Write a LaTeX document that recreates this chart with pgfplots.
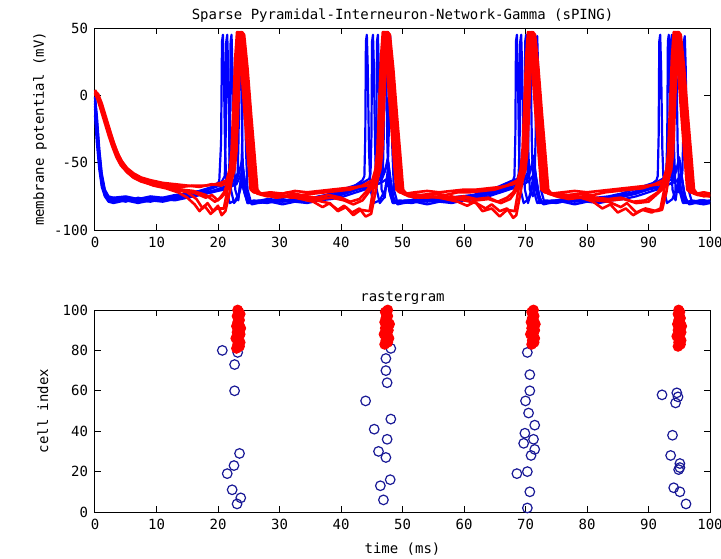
\documentclass[border=0pt]{standalone}
\usepackage{pgfplots}
\pgfplotsset{compat=1.18}
\usepackage{fontspec}
\setmainfont{DejaVu Sans Mono}
\definecolor{navy}{RGB}{25,25,150}

\begin{document}
\begin{tikzpicture}[font=\fontsize{7}{8}\selectfont]
\pgfplotsset{
  every axis/.append style={
    scale only axis, width=307.5pt, height=101pt,
    xmin=0, xmax=100, xtick={0,10,...,100},
    tick align=inside, major tick length=3pt,
    axis line style={line width=0.5pt},
    tick style={line width=0.5pt, black},
    tick label style={font=\fontsize{7}{8}\selectfont},
    label style={font=\fontsize{7}{8}\selectfont},
    title style={font=\fontsize{7}{8}\selectfont},
    /pgf/number format/assume math mode=true,
    clip=false,
  },
  rl/.style={red, line width=1.3pt, line join=round},
  bl/.style={blue, line width=1.1pt, line join=round},
}

% membrane potential traces
\begin{axis}[
  ymin=-100, ymax=50, ytick={-100,-50,0,50},
  ylabel={membrane potential (mV)},
  ylabel style={at={(axis description cs:-0.0894,0.5)}, anchor=center},
  title={Sparse Pyramidal-Interneuron-Network-Gamma (sPING)},
  title style={at={(axis description cs:0.5,1)}, anchor=base, yshift=-1.5pt},
]
% interneurons (blue)
\addplot[bl] coordinates {(0,-2) (0.3,-18) (0.7,-42) (1.1,-60) (1.6,-71) (2.2,-76) (3,-78) (5,-77) (7,-78) (9,-76) (11,-77) (13,-75) (15,-74) (17,-72) (18.5,-70) (19.5,-67)
 (20.2,-64) (20.5,-35) (20.65,40) (20.8,45) (20.95,20) (21.15,-40) (21.4,-70) (21.9,-80) (22.8,-78) (23.5,-72) (23.9,-65) (24.4,-74) (25,-80) (26,-79)
 (28,-78) (30,-79) (32,-77) (34,-78) (36,-76) (38,-75) (40,-72) (42,-68) (43.5,-63)
 (43.8,-60) (43.95,-30) (44.05,40) (44.2,45) (44.35,20) (44.55,-40) (44.8,-70) (45.3,-80) (46.3,-78) (47.2,-70) (47.6,-64) (48.1,-75) (48.7,-80) (49.5,-79)
 (51,-78) (53,-79) (55,-77) (57,-78) (59,-76) (61,-75) (63,-73) (65,-70) (67,-66) (68,-63)
 (68.2,-60) (68.35,-30) (68.45,40) (68.6,45) (68.75,20) (68.95,-40) (69.2,-70) (69.7,-80) (70.5,-77) (71.1,-68) (71.5,-62) (72,-75) (72.6,-80) (73.5,-79)
 (75,-78) (77,-79) (79,-77) (81,-78) (83,-76) (85,-75) (87,-73) (89,-69) (90.5,-66) (91.3,-63)
 (91.5,-60) (91.65,-30) (91.75,40) (91.9,45) (92.05,20) (92.25,-40) (92.5,-70) (93,-80) (93.9,-77) (94.6,-68) (95,-62) (95.5,-75) (96.1,-80) (97,-79)
 (98.5,-78) (100,-79)};
\addplot[bl] coordinates {(0,-6) (0.3,-25) (0.7,-48) (1.1,-64) (1.6,-73) (2.2,-77) (3,-76) (5,-78) (7,-77) (9,-78) (11,-76) (13,-76) (15,-73) (17,-71) (19,-68) (20.5,-65)
 (21.1,-60) (21.25,-30) (21.35,40) (21.5,45) (21.65,20) (21.85,-40) (22.1,-70) (22.6,-80) (23.3,-76) (23.8,-60) (24.2,-70) (24.8,-80) (25.8,-78)
 (27.5,-79) (29.5,-77) (31.5,-78) (33.5,-77) (35.5,-76) (37.5,-74) (39.5,-71) (41.5,-68) (43.5,-65) (44.6,-62)
 (44.8,-58) (44.95,-30) (45.05,40) (45.2,45) (45.35,20) (45.55,-40) (45.8,-70) (46.3,-80) (47,-76) (47.5,-60) (47.9,-70) (48.5,-80) (49.5,-78)
 (51.5,-79) (53.5,-77) (55.5,-78) (57.5,-76) (59.5,-75) (61.5,-74) (63.5,-71) (65.5,-68) (67.5,-64) (68.7,-62)
 (68.9,-58) (69.05,-30) (69.15,40) (69.3,45) (69.45,20) (69.65,-40) (69.9,-70) (70.4,-80) (70.9,-72) (71.3,-58) (71.7,-70) (72.3,-80) (73.3,-78)
 (75.5,-79) (77.5,-77) (79.5,-78) (81.5,-76) (83.5,-75) (85.5,-73) (87.5,-70) (89.5,-67) (91.5,-64) (92.7,-61)
 (92.9,-58) (93.05,-30) (93.15,40) (93.3,45) (93.45,20) (93.65,-40) (93.9,-70) (94.4,-78) (94.9,-62) (95.3,-70) (95.9,-80) (97,-78)
 (98.5,-79) (100,-78)};
\addplot[bl] coordinates {(0,-10) (0.3,-30) (0.7,-52) (1.1,-66) (1.6,-74) (2.2,-78) (3,-79) (5,-77) (7,-79) (9,-77) (11,-78) (13,-76) (15,-75) (17,-72) (19,-69) (21,-65)
 (21.8,-60) (21.95,-30) (22.05,40) (22.2,45) (22.35,20) (22.55,-40) (22.8,-70) (23.3,-78) (23.9,-55) (24.3,-68) (24.9,-80) (26,-79)
 (28,-77) (30,-79) (32,-78) (34,-77) (36,-77) (38,-75) (40,-73) (42,-69) (44,-66) (45.4,-62)
 (45.6,-60) (45.75,-30) (45.85,40) (46.0,45) (46.15,20) (46.35,-40) (46.6,-70) (47.1,-76) (47.6,-56) (48,-68) (48.6,-80) (49.7,-79)
 (51.5,-78) (53.5,-79) (55.5,-77) (57.5,-78) (59.5,-76) (61.5,-75) (63.5,-72) (65.5,-69) (67.5,-66) (69.5,-62)
 (69.7,-58) (69.85,-30) (69.95,40) (70.1,45) (70.25,20) (70.45,-40) (70.7,-70) (71.2,-75) (71.6,-60) (72,-70) (72.6,-80) (73.6,-79)
 (75.5,-78) (77.5,-79) (79.5,-77) (81.5,-78) (83.5,-76) (85.5,-74) (87.5,-72) (89.5,-69) (91.5,-66) (93.2,-62)
 (93.4,-58) (93.55,-30) (93.65,40) (93.8,45) (93.95,20) (94.15,-40) (94.4,-70) (94.9,-72) (95.3,-58) (95.7,-70) (96.3,-80) (97.3,-79)
 (99,-78) (100,-79)};
\addplot[bl] coordinates {(0,-4) (0.3,-22) (0.7,-46) (1.1,-63) (1.6,-73) (2.2,-77) (3,-77) (5,-79) (7,-76) (9,-78) (11,-77) (13,-77) (15,-75) (17,-73) (19,-71) (21,-68) (22.5,-64)
 (23.2,-58) (23.35,-30) (23.45,40) (23.6,45) (23.75,20) (23.95,-40) (24.2,-70) (24.8,-80) (26,-79)
 (28,-80) (30,-78) (32,-79) (34,-78) (36,-78) (38,-76) (40,-74) (42,-71) (44,-68) (46,-64)
 (46.8,-58) (46.95,-30) (47.05,40) (47.2,45) (47.35,20) (47.55,-40) (47.8,-70) (48.4,-80) (49.6,-79)
 (51.5,-80) (53.5,-78) (55.5,-79) (57.5,-77) (59.5,-77) (61.5,-76) (63.5,-74) (65.5,-71) (67.5,-68) (69.5,-64)
 (70.3,-58) (70.45,-30) (70.55,40) (70.7,45) (70.85,20) (71.05,-40) (71.3,-70) (71.9,-80) (73.1,-79)
 (75,-80) (77,-78) (79,-79) (81,-77) (83,-77) (85,-76) (87,-74) (89,-71) (91,-68) (93,-64)
 (94.0,-58) (94.15,-30) (94.25,40) (94.4,45) (94.55,20) (94.75,-40) (95.0,-70) (95.6,-80) (96.8,-79)
 (98.5,-80) (100,-79)};
\addplot[bl] coordinates {(0,-15) (0.3,-35) (0.7,-55) (1.1,-68) (1.6,-75) (2.2,-79) (3,-80) (5,-78) (7,-80) (9,-78) (11,-79) (13,-77) (15,-76) (17,-74) (19,-72) (21,-69) (22.8,-65)
 (23.4,-58) (23.9,-48) (24.3,-62) (24.8,-76) (25.5,-81) (26.5,-80)
 (28.5,-79) (30.5,-81) (32.5,-79) (34.5,-80) (36.5,-78) (38.5,-77) (40.5,-75) (42.5,-72) (44.5,-69) (46.4,-65)
 (47.1,-57) (47.6,-47) (48,-62) (48.5,-76) (49.2,-81) (50.2,-80)
 (52,-79) (54,-81) (56,-79) (58,-80) (60,-78) (62,-77) (64,-75) (66,-72) (68,-69) (70.1,-65)
 (70.8,-56) (71.3,-45) (71.7,-60) (72.2,-75) (72.9,-81) (73.9,-80)
 (76,-79) (78,-81) (80,-79) (82,-80) (84,-78) (86,-77) (88,-75) (90,-72) (92,-69) (93.8,-65)
 (94.5,-56) (95,-46) (95.4,-60) (95.9,-75) (96.6,-81) (97.6,-80)
 (99,-81) (100,-80)};
\addplot[bl] coordinates {(0,-8) (0.3,-28) (0.7,-50) (1.1,-65) (1.6,-74) (2.2,-78) (3,-78) (5,-76) (7,-78) (9,-79) (11,-77) (13,-78) (15,-76) (17,-74) (19,-72) (21,-70) (23,-66)
 (23.8,-58) (23.95,-30) (24.05,40) (24.2,44) (24.35,20) (24.55,-40) (24.8,-70) (25.4,-80) (26.6,-78)
 (28.5,-79) (30.5,-77) (32.5,-79) (34.5,-78) (36.5,-76) (38.5,-76) (40.5,-73) (42.5,-70) (44.5,-68) (46.5,-65) (47.5,-62)
 (47.6,-58) (47.75,-30) (47.85,40) (48.0,44) (48.15,20) (48.35,-40) (48.6,-70) (49.2,-80) (50.4,-78)
 (52.5,-79) (54.5,-77) (56.5,-79) (58.5,-78) (60.5,-76) (62.5,-75) (64.5,-73) (66.5,-70) (68.5,-68) (70.5,-64)
 (71.5,-58) (71.65,-30) (71.75,40) (71.9,44) (72.05,20) (72.25,-40) (72.5,-70) (73.1,-80) (74.3,-78)
 (76,-79) (78,-77) (80,-79) (82,-78) (84,-76) (86,-75) (88,-73) (90,-70) (92,-68) (94.5,-64)
 (95.5,-58) (95.65,-30) (95.75,40) (95.9,44) (96.05,20) (96.25,-40) (96.5,-70) (97.1,-80) (98.3,-78)
 (100,-79)};
\addplot[bl] coordinates {(0,-1) (0.3,-15) (0.7,-40) (1.1,-58) (1.6,-70) (2.2,-75) (3,-76) (5,-75) (7,-77) (9,-75) (11,-76) (13,-74) (15,-73) (17,-71) (19,-69) (21,-66) (22.8,-63)
 (23.5,-55) (24.0,-52) (24.4,-65) (24.9,-78) (25.6,-80) (26.6,-79)
 (28.5,-77) (30.5,-79) (32.5,-78) (34.5,-77) (36.5,-75) (38.5,-74) (40.5,-71) (42.5,-68) (44.5,-65) (46.5,-62)
 (47.2,-55) (47.7,-50) (48.1,-64) (48.6,-78) (49.3,-80) (50.3,-79)
 (52,-77) (54,-79) (56,-78) (58,-77) (60,-75) (62,-74) (64,-72) (66,-69) (68,-66) (70.2,-62)
 (70.9,-54) (71.4,-52) (71.8,-64) (72.3,-78) (73,-80) (74,-79)
 (76,-77) (78,-79) (80,-78) (82,-77) (84,-75) (86,-74) (88,-72) (90,-69) (92,-66) (94,-62)
 (94.6,-54) (95.1,-50) (95.5,-64) (96,-78) (96.7,-80) (97.7,-79)
 (99,-78) (100,-79)};
% pyramidal cells (red)
\addplot[rl] coordinates {(0,3) (0.4,0) (1,-8) (1.6,-17) (2.2,-26) (2.8,-35) (3.4,-43) (4,-49) (5,-55) (6,-59) (7,-62) (8.5,-64) (10,-66) (12,-67) (14,-68) (16,-67) (18,-67) (19.5,-66) (20.5,-65)
 (21.4,-63) (21.9,-55) (22.2,-42) (22.5,-8) (22.8,28) (23.1,47) (23.4,45) (23.8,20) (24.3,-12) (24.8,-42) (25.3,-70) (25.8,-72)
 (27.5,-73) (29.5,-74) (31.5,-72) (33.5,-74) (35.5,-73) (37.5,-72) (39.5,-71) (41.5,-70) (43.5,-67)
 (45.1,-63) (45.6,-55) (45.9,-42) (46.2,-8) (46.5,28) (46.8,47) (47.1,45) (47.5,20) (48.0,-12) (48.5,-42) (49.0,-70) (49.5,-72)
 (51,-73) (53,-74) (55,-73) (57,-74) (59,-72) (61,-72) (63,-71) (65,-70) (67,-67)
 (68.7,-63) (69.2,-55) (69.5,-42) (69.8,-8) (70.1,28) (70.4,47) (70.7,45) (71.1,20) (71.6,-12) (72.1,-42) (72.6,-70) (73.1,-72)
 (75,-73) (77,-74) (79,-73) (81,-74) (83,-72) (85,-71) (87,-70) (89,-69) (91,-66)
 (92.4,-63) (92.9,-55) (93.2,-42) (93.5,-8) (93.8,28) (94.1,47) (94.4,45) (94.8,20) (95.3,-12) (95.8,-42) (96.3,-70) (96.8,-72)
 (98,-73) (99,-74) (100,-73)};
\addplot[rl] coordinates {(0,1) (0.5,-3) (1.1,-11) (1.7,-20) (2.3,-29) (2.9,-38) (3.5,-45) (4.2,-51) (5.2,-57) (6.2,-61) (7.5,-64) (9,-66) (11,-68) (13,-69) (15,-71) (16.5,-73) (18,-76) (19,-74) (20,-78) (21,-72)
 (21.7,-63) (22.2,-55) (22.5,-42) (22.8,-8) (23.1,28) (23.4,47) (23.75,45) (24.3,20) (24.9,-15) (25.4,-42) (25.9,-70) (26.4,-73)
 (28,-75) (30,-74) (32,-76) (34,-75) (36,-76) (38,-74) (40,-76) (41.5,-79) (43,-77) (44,-72)
 (45.4,-63) (45.9,-55) (46.2,-42) (46.5,-8) (46.8,28) (47.1,47) (47.45,45) (48.0,20) (48.6,-15) (49.1,-42) (49.6,-70) (50.1,-73)
 (52,-75) (54,-76) (56,-75) (58,-76) (60,-75) (62,-77) (64,-76) (65.5,-79) (67,-76) (68,-72)
 (69.0,-63) (69.5,-55) (69.8,-42) (70.1,-8) (70.4,28) (70.7,47) (71.05,45) (71.6,20) (72.2,-15) (72.7,-42) (73.2,-70) (73.7,-73)
 (75.5,-75) (77.5,-76) (79.5,-75) (81.5,-76) (83.5,-77) (85.5,-76) (87.5,-79) (89.5,-78) (91.5,-72)
 (92.7,-63) (93.2,-55) (93.5,-42) (93.8,-8) (94.1,28) (94.4,47) (94.75,45) (95.3,20) (95.9,-15) (96.4,-42) (96.9,-70) (97.4,-73)
 (98.5,-74) (100,-75)};
\addplot[rl] coordinates {(0,2) (0.5,-1) (1.2,-12) (1.8,-21) (2.4,-30) (3,-38) (3.6,-45) (4.3,-51) (5.3,-56) (6.3,-60) (7.5,-63) (9,-65) (11,-67) (13,-70) (15,-72) (16.5,-77) (17.5,-84) (18.3,-80) (19.2,-86) (20,-82) (20.6,-89)
 (21.2,-86) (21.9,-72) (22.4,-58) (22.7,-42) (23.0,-8) (23.3,28) (23.6,47) (23.9,45) (24.3,20) (24.8,-12) (25.3,-42) (25.8,-70) (26.3,-72)
 (28,-74) (30,-75) (32,-74) (34,-76) (36,-78) (38,-80) (39.5,-85) (40.5,-82) (41.8,-87) (43,-84) (44,-90)
 (44.9,-88) (45.6,-72) (46.1,-58) (46.4,-42) (46.7,-8) (47.0,28) (47.3,47) (47.6,45) (48.0,20) (48.5,-12) (49.0,-42) (49.5,-70) (50.0,-72)
 (52,-74) (54,-75) (56,-76) (58,-75) (60,-78) (62,-80) (63.5,-84) (64.5,-81) (65.8,-86) (67,-84) (68,-91)
 (68.5,-89) (69.2,-72) (69.7,-58) (70.0,-42) (70.3,-8) (70.6,28) (70.9,47) (71.2,45) (71.6,20) (72.1,-12) (72.6,-42) (73.1,-70) (73.6,-72)
 (75.5,-75) (77.5,-74) (79.5,-76) (81.5,-78) (83.5,-79) (85.5,-83) (86.5,-80) (88,-87) (89.5,-84) (91.3,-86)
 (92.2,-85) (92.9,-72) (93.4,-58) (93.7,-42) (94.0,-8) (94.3,28) (94.6,47) (94.9,45) (95.3,20) (95.8,-12) (96.3,-42) (96.8,-70) (97.3,-72)
 (98.5,-74) (100,-74)};
\addplot[rl] coordinates {(0,4) (0.6,-2) (1.2,-10) (1.9,-20) (2.5,-28) (3.1,-36) (3.8,-44) (4.5,-50) (5.5,-56) (6.5,-60) (8,-63) (10,-65) (12,-68) (14,-70) (16,-71) (18,-74) (19.5,-79) (20.5,-76) (21.3,-72)
 (22.05,-63) (22.55,-55) (22.85,-42) (23.15,-8) (23.45,28) (23.75,47) (24.1,45) (24.65,20) (25.25,-15) (25.75,-42) (26.25,-70) (26.75,-73)
 (28.5,-74) (30.5,-75) (32.5,-76) (34.5,-75) (36.5,-77) (38.5,-76) (40.5,-78) (42,-81) (43.5,-78) (44.8,-70)
 (45.75,-63) (46.25,-55) (46.55,-42) (46.85,-8) (47.15,28) (47.45,47) (47.8,45) (48.35,20) (48.95,-15) (49.45,-42) (49.95,-70) (50.45,-73)
 (52,-76) (54,-75) (56,-76) (58,-77) (60,-76) (62,-78) (64,-77) (66,-80) (67.5,-77) (68.6,-70)
 (69.35,-63) (69.85,-55) (70.15,-42) (70.45,-8) (70.75,28) (71.05,47) (71.4,45) (71.95,20) (72.55,-15) (73.05,-42) (73.55,-70) (74.05,-73)
 (76,-74) (78,-76) (80,-75) (82,-77) (84,-78) (86,-77) (88,-80) (90,-79) (92.2,-70)
 (93.05,-63) (93.55,-55) (93.85,-42) (94.15,-8) (94.45,28) (94.75,47) (95.1,45) (95.65,20) (96.25,-15) (96.75,-42) (97.25,-70) (97.75,-73)
 (99,-75) (100,-74)};
\addplot[rl] coordinates {(0,2) (0.5,-4) (1.1,-13) (1.7,-22) (2.3,-31) (2.9,-39) (3.5,-46) (4.2,-52) (5.2,-57) (6.3,-61) (7.8,-64) (9.5,-67) (11.5,-69) (13.5,-72) (15,-76) (16.2,-81) (17,-86) (17.8,-82) (18.8,-88) (19.8,-84)
 (20.95,-84) (21.55,-70) (22.05,-57) (22.35,-42) (22.65,-8) (22.95,28) (23.25,47) (23.55,45) (23.95,20) (24.45,-12) (24.95,-42) (25.45,-70) (25.95,-72)
 (27.5,-74) (29.5,-76) (31.5,-75) (33.5,-77) (35.5,-79) (37,-83) (38.2,-80) (39.5,-86) (40.8,-83) (42,-89) (43.2,-85)
 (44.65,-86) (45.25,-70) (45.75,-57) (46.05,-42) (46.35,-8) (46.65,28) (46.95,47) (47.25,45) (47.65,20) (48.15,-12) (48.65,-42) (49.15,-70) (49.65,-72)
 (51,-75) (53,-76) (55,-75) (57,-77) (59,-79) (60.5,-82) (61.8,-79) (63,-86) (64.5,-84) (65.8,-90) (67,-85)
 (68.25,-86) (68.85,-70) (69.35,-57) (69.65,-42) (69.95,-8) (70.25,28) (70.55,47) (70.85,45) (71.25,20) (71.75,-12) (72.25,-42) (72.75,-70) (73.25,-72)
 (75,-75) (77,-77) (79,-76) (81,-79) (82.5,-84) (83.8,-81) (85,-87) (86.3,-84) (87.5,-89) (89,-85) (90.5,-87)
 (91.95,-84) (92.55,-70) (93.05,-57) (93.35,-42) (93.65,-8) (93.95,28) (94.25,47) (94.55,45) (94.95,20) (95.45,-12) (95.95,-42) (96.45,-70) (96.95,-72)
 (98,-74) (100,-75)};
\addplot[rl] coordinates {(0,3) (0.5,1) (1.1,-6) (1.7,-15) (2.3,-24) (2.9,-33) (3.5,-41) (4.2,-48) (5.2,-54) (6.3,-58) (7.5,-61) (9,-63) (11,-65) (13,-66) (15,-67) (17,-68) (19,-66) (20.5,-67) (21.5,-65)
 (22.2,-63) (22.7,-55) (23.0,-42) (23.3,-8) (23.6,28) (23.9,47) (24.25,45) (24.8,20) (25.4,-15) (25.9,-42) (26.4,-70) (26.9,-73)
 (28.5,-72) (30.5,-73) (32.5,-71) (34.5,-72) (36.5,-71) (38.5,-70) (40.5,-69) (42.5,-68) (44.5,-67)
 (45.9,-63) (46.4,-55) (46.7,-42) (47.0,-8) (47.3,28) (47.6,47) (47.95,45) (48.5,20) (49.1,-15) (49.6,-42) (50.1,-70) (50.6,-73)
 (52,-72) (54,-71) (56,-72) (58,-71) (60,-70) (62,-70) (64,-69) (66,-68) (68,-66)
 (69.5,-63) (70.0,-55) (70.3,-42) (70.6,-8) (70.9,28) (71.2,47) (71.55,45) (72.1,20) (72.7,-15) (73.2,-42) (73.7,-70) (74.2,-73)
 (76,-72) (78,-71) (80,-72) (82,-71) (84,-70) (86,-69) (88,-68) (90,-67) (92,-66)
 (93.2,-63) (93.7,-55) (94.0,-42) (94.3,-8) (94.6,28) (94.9,47) (95.25,45) (95.8,20) (96.4,-15) (96.9,-42) (97.4,-70) (97.9,-73)
 (99,-72) (100,-73)};
\end{axis}

% rastergram
\begin{axis}[
  at={(0,-141pt)},
  ymin=0, ymax=100, ytick={0,20,...,100},
  ylabel={cell index},
  ylabel style={at={(axis description cs:-0.0846,0.5)}, anchor=center},
  xlabel={time (ms)},
  xlabel style={at={(axis description cs:0.5,0)}, anchor=base, yshift=-20.5pt},
  title={rastergram},
  title style={at={(axis description cs:0.5,1)}, anchor=base, yshift=-1.5pt},
]
\addplot[only marks, mark=o, mark size=2.4pt, draw=navy, line width=0.6pt] coordinates {
 (20.7,80) (23.2,79) (22.7,73) (22.7,60) (23.5,29) (22.6,23) (21.5,19) (22.3,11) (23.7,7) (23.1,4)
 (48.1,81) (47.3,76) (47.3,70) (47.5,64) (44.0,55) (48.1,46) (45.4,41) (47.5,36) (46.1,30) (47.3,27) (48.0,16) (46.4,13) (46.9,6)
 (70.3,79) (70.7,68) (70.7,60) (70.0,55) (70.5,49) (71.5,43) (69.9,39) (71.3,36) (69.7,34) (71.5,31) (70.9,28) (70.3,20) (68.6,19) (70.7,10) (70.3,2)
 (92.2,58) (94.6,59) (94.8,57) (94.4,54) (93.9,38) (93.6,28) (95.1,24) (95.1,22) (94.9,21) (94.1,12) (95.1,10) (96.1,4)};
\addplot[only marks, mark=*, mark size=2.4pt, draw=red, fill=red, line width=0.6pt] coordinates {
 (23.0,81) (23.5,82) (23.2,83) (23.6,84) (23.3,85) (22.9,86) (23.4,87) (23.6,88) (23.1,89) (23.3,90)
 (23.7,91) (23.0,92) (23.4,93) (23.2,94) (23.5,95) (23.3,96) (23.1,97) (23.6,98) (23.4,99) (23.2,100)
 (47.1,83) (47.6,84) (47.3,85) (47.8,86) (47.4,87) (47.0,88) (47.5,89) (47.7,90) (47.2,91) (47.4,92)
 (47.9,93) (47.1,94) (47.5,95) (47.3,96) (47.6,97) (47.4,98) (47.2,99) (47.6,100)
 (71.0,83) (71.4,84) (71.1,85) (71.5,86) (71.2,87) (70.8,88) (71.3,89) (71.5,90) (71.0,91) (71.2,92)
 (71.6,93) (70.9,94) (71.3,95) (71.1,96) (71.4,97) (71.2,98) (71.0,99) (71.3,100)
 (94.8,82) (95.2,83) (94.9,84) (95.3,85) (95.0,86) (94.6,87) (95.1,88) (95.3,89) (94.8,90) (95.0,91)
 (95.4,92) (94.7,93) (95.1,94) (94.9,95) (95.2,96) (95.0,97) (94.8,98) (95.1,99) (94.9,100)};
\end{axis}

\pgfresetboundingbox
\useasboundingbox (-47.5pt,-164pt) rectangle (313pt,115pt);
\end{tikzpicture}
\end{document}
